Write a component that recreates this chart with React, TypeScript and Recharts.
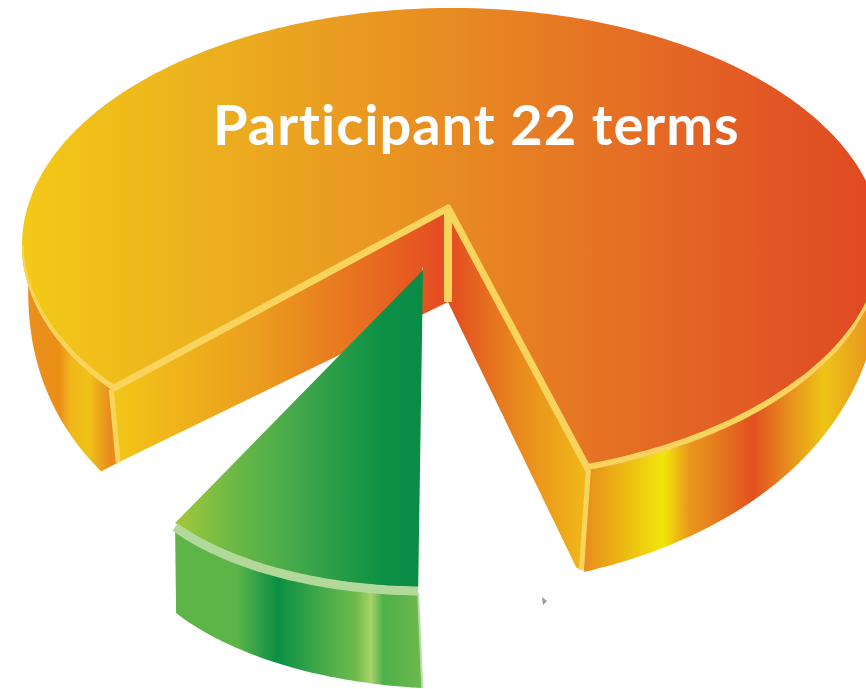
import { Pie, PieChart } from "recharts";

const categories = ["Participant 22 terms", "Other terms"];
const values = [80.3, 19.7];
const title = "Participant 22 terms";

const chartData = categories.map((name, i) => ({ name, value: values[i] }));

const EDGE = "#f8d45c";
const RAD = Math.PI / 180;
const SQUASH = 237 / 430;

type Pt = [number, number];

const toPath = (pts: Pt[], close = true) =>
    pts.map((p, i) => `${i ? "L" : "M"}${p[0].toFixed(1)} ${p[1].toFixed(1)}`).join(" ") + (close ? " Z" : "");

const arc = (cx: number, cy: number, rx: number, ry: number, from: number, to: number): Pt[] => {
    const pts: Pt[] = [];
    const steps = Math.max(2, Math.ceil(Math.abs(to - from)));
    for (let i = 0; i <= steps; i++) {
        const a = (from + ((to - from) * i) / steps) * RAD;
        pts.push([cx + rx * Math.cos(a), cy - ry * Math.sin(a)]);
    }
    return pts;
};

const depthRatio = (p: Pt, cy: number, ry: number) => Math.max(0, Math.min(1, (p[1] - cy) / ry));

// side wall of the disc gets deeper towards the viewer
const dropRight = (p: Pt, cy: number, ry: number): Pt => {
    const s = depthRatio(p, cy, ry);
    return [p[0] - 5 * s, p[1] + 105 * Math.sqrt(s)];
};

const dropLeft = (p: Pt, cy: number, ry: number): Pt => {
    const s = depthRatio(p, cy, ry);
    return [p[0] + 7 - 28 * s, p[1] + 105 * Math.sqrt(s)];
};

// rim highlight: hairline at the sides of the disc, full width at the front
const rimBand = (pts: Pt[], cx: number, cy: number, ry: number, maxWidth: number): Pt[] => {
    const inner = pts.map((p): Pt => {
        const s = depthRatio(p, cy, ry);
        const w = 1.5 + (maxWidth - 1.5) * Math.min(1, s * 1.6);
        const dx = p[0] - cx;
        const dy = (p[1] - cy) / SQUASH;
        const len = Math.hypot(dx, dy) || 1;
        return [p[0] - (w * dx) / len, p[1] - (w * dy) / len];
    });
    return [...pts, ...inner.reverse()];
};

const BigSlice = ({ cx, cy, outerRadius, startAngle, endAngle }: any) => {
    const ry = outerRadius * SQUASH;
    const apex: Pt = [cx - 4, cy - 37];
    const foot: Pt = [apex[0], apex[1] + 94];
    const top = arc(cx, cy, outerRadius, ry, startAngle, endAngle);
    const rightCorner = top[0];
    const leftCorner = top[top.length - 1];

    const rightArc = arc(cx, cy, outerRadius, ry, startAngle, 0);
    const leftArc = arc(cx, cy, outerRadius, ry, 180, endAngle);
    const leftFoot: Pt = [leftCorner[0] + 7, leftCorner[1] + 73];
    const rightFoot: Pt = [rightCorner[0] - 7, rightCorner[1] + 100];
    const rightInnerFoot: Pt = [rightCorner[0] - 12, rightCorner[1] + 98];

    return (
        <g>
            <path d={toPath([leftCorner, apex, foot, leftFoot])} fill="url(#innerLeft)" />
            <path d={toPath([apex, rightCorner, rightFoot, rightInnerFoot, foot])} fill="url(#innerRight)" />
            <path d={toPath([...rightArc, ...rightArc.map((p) => dropRight(p, cy, ry)).reverse()])} fill="url(#wall)" />
            <path d={toPath([...leftArc, leftFoot, ...leftArc.map((p) => dropLeft(p, cy, ry)).reverse()])} fill="url(#wall)" />
            <path d={toPath([apex, ...top])} fill="url(#topFace)" />
            <path d={toPath(rimBand(rightArc, cx, cy, ry, 6))} fill={EDGE} />
            <path d={toPath(rimBand(leftArc, cx, cy, ry, 6))} fill={EDGE} />
            <path d={toPath([apex, foot], false)} fill="none" stroke={EDGE} strokeWidth={8} />
            <path
                d={toPath([leftCorner, apex, rightCorner], false)}
                fill="none"
                stroke={EDGE}
                strokeWidth={7}
                strokeLinejoin="round"
            />
            <path d={toPath([leftCorner, leftFoot], false)} fill="none" stroke={EDGE} strokeWidth={5} />
            <path d={toPath([rightCorner, rightFoot], false)} fill="none" stroke={EDGE} strokeWidth={5} />
            <path d={toPath([[cx + 90, cy + 352], [cx + 95, cy + 356], [cx + 91, cy + 360]])} fill="#9a9a9a" />
        </g>
    );
};

const GreenSlice = ({ cx, cy, startAngle, endAngle }: any) => {
    const gx = cx - 27;
    const gy = cy + 199;
    const from = startAngle - 4;
    const to = endAngle - 19.8;
    const top = arc(gx, gy, 300, 143, from, to);
    const apex: Pt = [cx - 29, cy + 25];
    const tip: Pt = [cx - 30, cy + 21];
    const band = top.map((p): Pt => [p[0], p[1] + 4]);
    const wallTop = top.map((p): Pt => [p[0], p[1] + 6]);
    const wallBottom = top.map((p, i): Pt => {
        const t = i / (top.length - 1);
        return [p[0] + 1 + 3 * t, p[1] + 90 + 11 * t];
    });
    const last = wallTop[wallTop.length - 1];
    const lastBottom = wallBottom[wallBottom.length - 1];

    return (
        <g>
            <path d={toPath([...wallTop, ...[...wallBottom].reverse()])} fill="url(#greenWall)" />
            <path d={toPath([apex, ...top])} fill="url(#greenTop)" />
            <path d={toPath(band, false)} fill="none" stroke="#b3d99a" strokeWidth={9} />
            <path d={toPath([apex, tip, [apex[0] - 1, apex[1]]])} fill="#cfd6a0" />
            <path d={toPath([last, lastBottom], false)} fill="none" stroke="#b9dea8" strokeWidth={2} />
            {/* series paint above plain chart children, so the title goes with the last slice */}
            <text
                x={cx - 239}
                y={cy - 100}
                fill="#ffffff"
                fontFamily="Lato"
                fontWeight={700}
                fontSize={56}
                letterSpacing={1}
            >
                {title}
            </text>
        </g>
    );
};

const SliceShape = (props: any) =>
    props.name === categories[0] ? <BigSlice {...props} /> : <GreenSlice {...props} />;

const App = () => {
    return (
        <div style={{ position: "absolute", left: 0, top: 0, width: 866, height: 689, background: "#fff" }}>
            <PieChart width={866} height={689} margin={{ top: 0, right: 0, bottom: 0, left: 0 }}>
                <defs>
                    <linearGradient id="topFace" gradientUnits="userSpaceOnUse" x1={22} y1={0} x2={866} y2={0}>
                        <stop offset="0" stopColor="#f3c917" />
                        <stop offset="0.22" stopColor="#ecb01e" />
                        <stop offset="0.5" stopColor="#e88c22" />
                        <stop offset="0.72" stopColor="#e56e24" />
                        <stop offset="0.9" stopColor="#e15524" />
                        <stop offset="1" stopColor="#e04b22" />
                    </linearGradient>
                    <linearGradient id="innerLeft" gradientUnits="userSpaceOnUse" x1={113} y1={0} x2={440} y2={0}>
                        <stop offset="0" stopColor="#f2c618" />
                        <stop offset="0.45" stopColor="#eb9c1e" />
                        <stop offset="1" stopColor="#e54d22" />
                    </linearGradient>
                    <linearGradient id="innerRight" gradientUnits="userSpaceOnUse" x1={455} y1={0} x2={585} y2={0}>
                        <stop offset="0" stopColor="#e35022" />
                        <stop offset="0.45" stopColor="#e8851e" />
                        <stop offset="1" stopColor="#f0b818" />
                    </linearGradient>
                    <linearGradient id="wall" gradientUnits="userSpaceOnUse" x1={22} y1={0} x2={866} y2={0}>
                        <stop offset="0" stopColor="#e98f1c" />
                        <stop offset="0.045" stopColor="#ec8f17" />
                        <stop offset="0.058" stopColor="#f0b81a" />
                        <stop offset="0.08" stopColor="#efc218" />
                        <stop offset="0.105" stopColor="#e98a1c" />
                        <stop offset="0.67" stopColor="#e8901c" />
                        <stop offset="0.76" stopColor="#f2e60a" />
                        <stop offset="0.79" stopColor="#e89a1c" />
                        <stop offset="0.867" stopColor="#e2501f" />
                        <stop offset="0.91" stopColor="#e8901c" />
                        <stop offset="0.95" stopColor="#eec415" />
                        <stop offset="1" stopColor="#e89a1f" />
                    </linearGradient>
                    <linearGradient id="greenTop" gradientUnits="userSpaceOnUse" x1={175} y1={0} x2={420} y2={0}>
                        <stop offset="0" stopColor="#a4c83a" />
                        <stop offset="0.22" stopColor="#6fba45" />
                        <stop offset="0.5" stopColor="#42a84a" />
                        <stop offset="0.85" stopColor="#0b9045" />
                        <stop offset="1" stopColor="#0a8c45" />
                    </linearGradient>
                    <linearGradient id="greenWall" gradientUnits="userSpaceOnUse" x1={175} y1={0} x2={420} y2={0}>
                        <stop offset="0" stopColor="#5db547" />
                        <stop offset="0.25" stopColor="#5db547" />
                        <stop offset="0.42" stopColor="#0a8f45" />
                        <stop offset="0.58" stopColor="#3ea848" />
                        <stop offset="0.74" stopColor="#6fbb4c" />
                        <stop offset="0.8" stopColor="#a8d468" />
                        <stop offset="0.85" stopColor="#4db04a" />
                        <stop offset="1" stopColor="#6db84f" />
                    </linearGradient>
                </defs>
                <Pie
                    data={chartData}
                    dataKey="value"
                    nameKey="name"
                    cx={452}
                    cy={245}
                    outerRadius={430}
                    startAngle={-71.5}
                    endAngle={288.5}
                    stroke="none"
                    shape={SliceShape}
                    isAnimationActive={false}
                    legendType="none"
                />
            </PieChart>
        </div>
    );
};

export default App;
